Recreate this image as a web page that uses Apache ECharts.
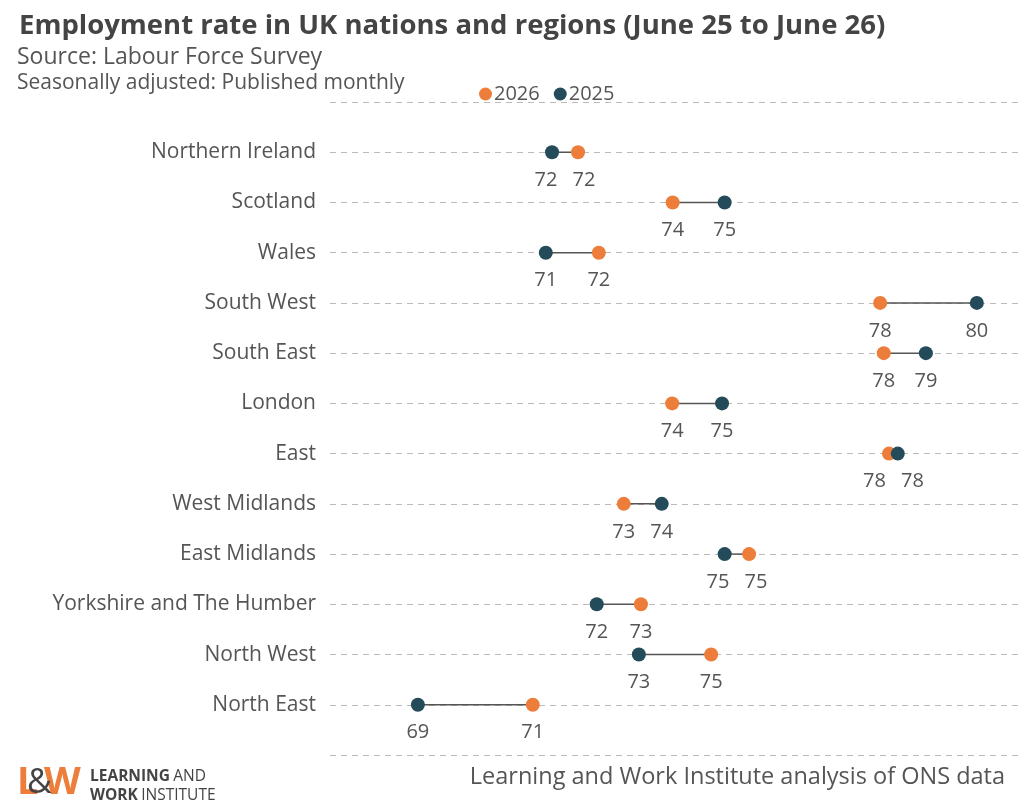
<!DOCTYPE html>
<html>
<head>
<meta charset="utf-8">
<script src="https://cdn.jsdelivr.net/npm/echarts@6/dist/echarts.min.js"></script>
<style>
  html, body { margin: 0; padding: 0; background: #fff; }
  #main { width: 1024px; height: 812px; }
</style>
</head>
<body>
<div id="main"></div>
<script>
var regions = ['Northern Ireland', 'Scotland', 'Wales', 'South West', 'South East', 'London',
    'East', 'West Midlands', 'East Midlands', 'Yorkshire and The Humber', 'North West', 'North East'];
var rate2026 = [72.06, 73.88, 72.46, 77.87, 77.94, 73.87, 78.04, 72.94, 75.35, 73.27, 74.62, 71.19];
var rate2025 = [71.56, 74.88, 71.44, 79.73, 78.75, 74.83, 78.21, 73.67, 74.88, 72.42, 73.23, 68.98];

var orange = '#ED7D3A';
var dark = '#234B5A';
var font = 'Open Sans';

var xMin = 67.29, xMax = 80.56;
var gridLeft = 330, gridRight = 4;

// empty categories top and bottom give the extra dashed lines
var cats = [''].concat(regions).concat(['']);

var chart = echarts.init(document.getElementById('main'));

function pts(arr) {
    return arr.map(function (v, i) { return [v, regions[i]]; });
}

// push the two value labels of a row apart when the dots sit close together
function spreadLabels(params) {
    var i = params.dataIndex;
    var pxPerUnit = (1024 - gridLeft - gridRight) / (xMax - xMin);
    var gap = Math.abs(rate2026[i] - rate2025[i]) * pxPerUnit;
    var minGap = 38;
    if (gap >= minGap) return {};
    var shift = (minGap - gap) / 2;
    var mine = params.seriesIndex === 1 ? rate2026[i] : rate2025[i];
    var other = params.seriesIndex === 1 ? rate2025[i] : rate2026[i];
    return { dx: mine < other ? -shift : shift };
}

var labelStyle = {
    show: true,
    position: 'bottom',
    distance: 11,
    fontFamily: font,
    fontSize: 20,
    color: '#555',
    formatter: function (p) { return Math.round(p.value[0]); }
};

var option = {
    animation: false,
    textStyle: { fontFamily: font },
    title: {
        text: 'Employment rate in UK nations and regions (June 25 to June 26)',
        left: 14,
        top: 7,
        textStyle: { fontFamily: font, fontSize: 27.5, fontWeight: 'bold', color: '#444' }
    },
    legend: {
        data: ['2026', '2025'],
        left: 474,
        top: 79,
        icon: 'circle',
        itemWidth: 13,
        itemHeight: 13,
        itemGap: 14,
        textStyle: { fontFamily: font, fontSize: 20, color: '#555', padding: [0, 0, 0, -3] }
    },
    grid: { left: gridLeft, right: gridRight, top: 102, bottom: 57 },
    xAxis: {
        type: 'value',
        min: xMin,
        max: xMax,
        show: false
    },
    yAxis: {
        type: 'category',
        data: cats,
        inverse: true,
        boundaryGap: false,
        axisLine: { show: false },
        axisTick: { show: false },
        axisLabel: { fontFamily: font, fontSize: 21, color: '#555', margin: 14, padding: [9, 0, 0, 0] },
        splitLine: { show: true, lineStyle: { color: '#bbb', type: [6, 5], width: 1.2 } }
    },
    graphic: [
        { type: 'text', left: 17, top: 46, style: { text: 'Source: Labour Force Survey', font: '23px "Open Sans"', fill: '#555' } },
        { type: 'text', left: 17, top: 73, style: { text: 'Seasonally adjusted: Published monthly', font: '21px "Open Sans"', fill: '#555' } },
        { type: 'text', right: 19, top: 765, style: { text: 'Learning and Work Institute analysis of ONS data', font: '23.5px "Open Sans"', fill: '#555' } },
        { type: 'text', left: 17, top: 764, style: { text: 'L', font: 'bold 38px "Open Sans"', fill: orange } },
        { type: 'text', left: 44, top: 764, style: { text: 'W', font: 'bold 38px "Open Sans"', fill: orange } },
        { type: 'text', left: 27, top: 766, style: { text: '&', font: '34px "Open Sans"', fill: '#444' } },
        {
            type: 'text', left: 90, top: 769,
            style: {
                text: '{b|LEARNING} {l|AND}\n{b|WORK} {l|INSTITUTE}',
                rich: {
                    b: { fontFamily: font, fontSize: 15.5, fontWeight: 'bold', fill: '#444', lineHeight: 19 },
                    l: { fontFamily: font, fontSize: 15.5, fill: '#444', lineHeight: 19 }
                }
            }
        }
    ],
    series: [
        {
            type: 'custom',
            name: 'link',
            silent: true,
            z: 1,
            data: regions.map(function (r, i) { return [rate2025[i], rate2026[i], r]; }),
            encode: { x: [0, 1], y: 2 },
            renderItem: function (params, api) {
                var a = api.coord([api.value(0), api.value(2)]);
                var b = api.coord([api.value(1), api.value(2)]);
                return {
                    type: 'line',
                    shape: { x1: a[0], y1: a[1], x2: b[0], y2: b[1] },
                    style: { stroke: '#555', lineWidth: 1.5 }
                };
            }
        },
        {
            name: '2026',
            type: 'scatter',
            z: 3,
            symbolSize: 14,
            itemStyle: { color: orange, opacity: 1 },
            label: labelStyle,
            labelLayout: spreadLabels,
            data: pts(rate2026)
        },
        {
            name: '2025',
            type: 'scatter',
            z: 4,
            symbolSize: 14,
            itemStyle: { color: dark, opacity: 1 },
            label: labelStyle,
            labelLayout: spreadLabels,
            data: pts(rate2025)
        }
    ]
};

chart.setOption(option);
</script>
</body>
</html>
